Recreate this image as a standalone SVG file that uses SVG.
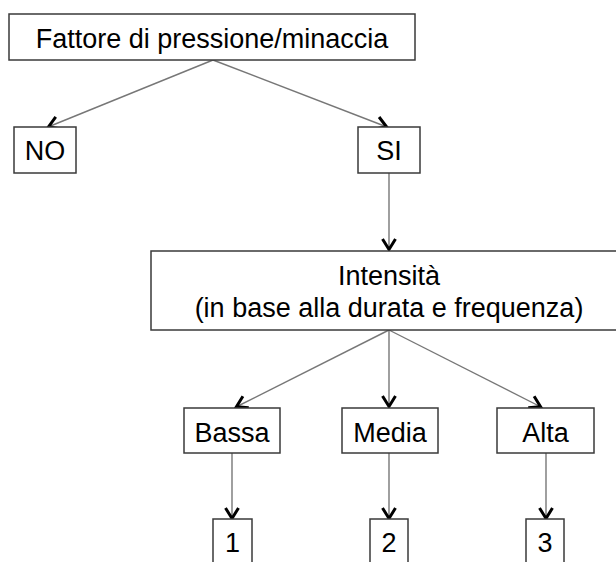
<svg xmlns="http://www.w3.org/2000/svg" width="616" height="562" viewBox="0 0 616 562">
<defs>
<marker id="arr" markerUnits="userSpaceOnUse" markerWidth="20" markerHeight="20" viewBox="-14 -10 16 20" refX="0" refY="0" orient="auto">
<path d="M -11 -6.5 L -0.5 0 L -11 6.5" fill="none" stroke="#000" stroke-width="3" stroke-linejoin="miter"/>
</marker>
</defs>
<style>
.box{fill:#fff;stroke:#3a3a3a;stroke-width:1.5}
.t{font-family:"Liberation Sans",Arial,sans-serif;font-size:27px;fill:#000;text-anchor:middle}
.c{stroke:#777;stroke-width:1.4;fill:none;marker-end:url(#arr)}
</style>
<rect width="616" height="562" fill="#fff"/>
<g id="connectors">
<line class="c" x1="213" y1="60" x2="48" y2="127"/>
<line class="c" x1="213" y1="60" x2="387" y2="127"/>
<line class="c" x1="389" y1="173" x2="389" y2="250"/>
<line class="c" x1="389" y1="330" x2="236" y2="407"/>
<line class="c" x1="389" y1="330" x2="389" y2="407"/>
<line class="c" x1="389" y1="330" x2="541" y2="407"/>
<line class="c" x1="232" y1="453" x2="232" y2="519"/>
<line class="c" x1="389" y1="453" x2="389" y2="519"/>
<line class="c" x1="546" y1="453" x2="546" y2="519"/>
</g>
<g id="fattore">
<rect class="box" x="9" y="14" width="406" height="46"/>
<text class="t" x="212" y="48">Fattore di pressione/minaccia</text>
</g>
<g id="no">
<rect class="box" x="14" y="127" width="62" height="46"/>
<text class="t" x="45" y="160">NO</text>
</g>
<g id="si">
<rect class="box" x="358" y="127" width="62" height="46"/>
<text class="t" x="389" y="160">SI</text>
</g>
<g id="intensita">
<rect class="box" x="151" y="251" width="477" height="79"/>
<text class="t" x="389" y="285">Intensità</text>
<text class="t" x="389" y="317">(in base alla durata e frequenza)</text>
</g>
<g id="bassa">
<rect class="box" x="184" y="408" width="96" height="45"/>
<text class="t" x="232" y="442">Bassa</text>
</g>
<g id="media">
<rect class="box" x="342" y="408" width="96" height="45"/>
<text class="t" x="390" y="442">Media</text>
</g>
<g id="alta">
<rect class="box" x="497" y="408" width="97" height="45"/>
<text class="t" x="545.5" y="442">Alta</text>
</g>
<g id="n1">
<rect class="box" x="213" y="519" width="39" height="60"/>
<text class="t" x="232.5" y="552">1</text>
</g>
<g id="n2">
<rect class="box" x="370" y="519" width="38" height="60"/>
<text class="t" x="389" y="552">2</text>
</g>
<g id="n3">
<rect class="box" x="526" y="519" width="38" height="60"/>
<text class="t" x="545" y="552">3</text>
</g>
</svg>
